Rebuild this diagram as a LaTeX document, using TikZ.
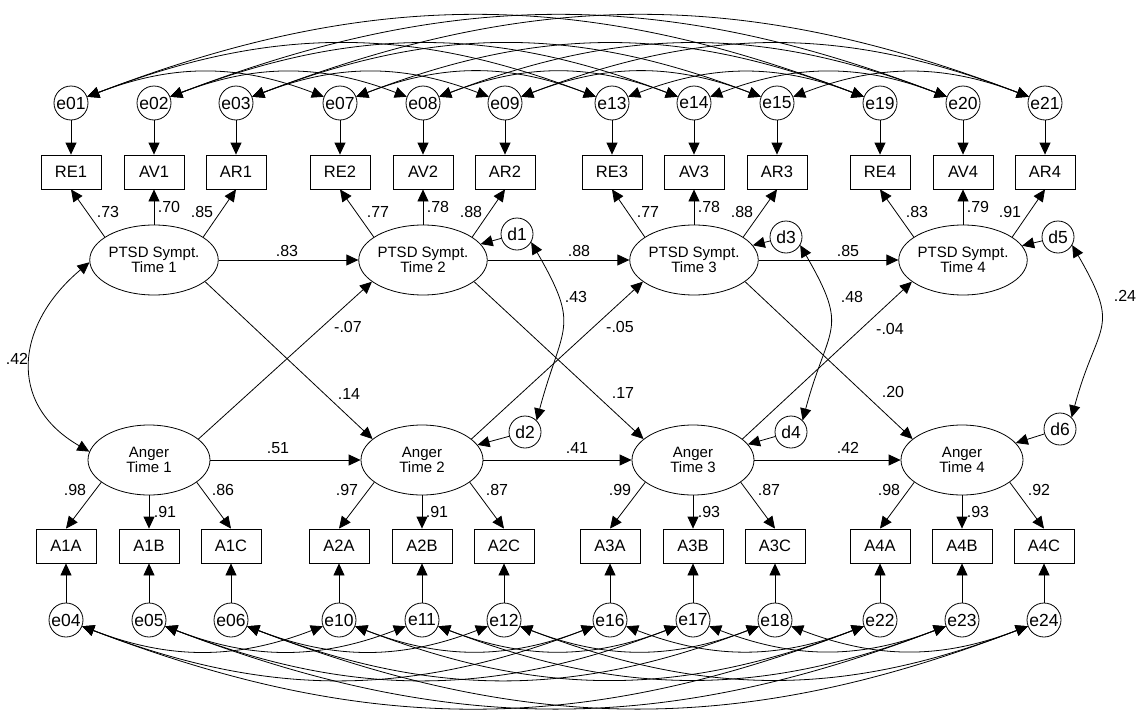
\documentclass[tikz,border=0pt]{standalone}
\usepackage{fontspec}
\setmainfont{Liberation Sans}
\usetikzlibrary{shapes.geometric,arrows.meta}
\begin{document}
\begin{tikzpicture}[x=1pt,y=1pt,
  every node/.style={font=\fontsize{16}{17}\selectfont},
  obs/.style={draw, rectangle, minimum width=60pt, minimum height=34pt, inner sep=0pt, line width=0.8pt, font=\fontsize{16.5}{17}\selectfont},
  lat/.style={draw, ellipse, minimum width=122pt, minimum height=70pt, inner sep=0pt, align=center, line width=0.8pt, font=\fontsize{15}{15.5}\selectfont},
  err/.style={draw, circle, minimum size=34pt, inner sep=0pt, line width=0.8pt, font=\fontsize{17.5}{18}\selectfont},
  dis/.style={draw, circle, minimum size=32pt, inner sep=0pt, line width=0.8pt, font=\fontsize{17.5}{18}\selectfont},
  lab/.style={inner sep=0pt, font=\fontsize{16}{16}\selectfont},
  arr/.style={-{Triangle[length=12pt,width=11pt]}, line width=0.8pt},
  dbl/.style={{Triangle[length=12pt,width=11pt]}-{Triangle[length=12pt,width=11pt]}, line width=0.8pt},
]
\useasboundingbox (0,0) rectangle (1144,-715);

% top error terms and indicators
\foreach \n/\x in {e01/71,e02/154,e03/236,e07/340,e08/423,e09/505,e13/612,e14/694,e15/777,e19/880,e20/963,e21/1045}
  \node[err] (\n) at (\x,-103) {\n};
\foreach \n/\x in {RE1/71,AV1/154,AR1/236,RE2/340,AV2/423,AR2/505,RE3/612,AV3/694,AR3/777,RE4/880,AV4/963,AR4/1045}
  \node[obs] (\n) at (\x,-172) {\n};

% bottom indicators and error terms
\foreach \n/\x in {A1A/66,A1B/149,A1C/231,A2A/339,A2B/422,A2C/504,A3A/610,A3B/693,A3C/775,A4A/880,A4B/962,A4C/1044}
  \node[obs] (\n) at (\x,-546) {\n};
\foreach \n/\x in {e04/66,e05/149,e06/231,e10/339,e11/422,e12/504,e16/610,e17/693,e18/775,e22/880,e23/962,e24/1044}
  \node[err] (\n) at (\x,-620) {\n};

% latent variables
\node[lat] (P1) at (154,-260) {PTSD Sympt.\\Time 1};
\node[lat] (P2) at (423,-260) {PTSD Sympt.\\Time 2};
\node[lat] (P3) at (694,-260) {PTSD Sympt.\\Time 3};
\node[lat] (P4) at (963,-260) {PTSD Sympt.\\Time 4};
\node[lat] (A1) at (149,-460) {Anger\\Time 1};
\node[lat] (A2) at (422,-460) {Anger\\Time 2};
\node[lat] (A3) at (693,-460) {Anger\\Time 3};
\node[lat] (A4) at (962,-460) {Anger\\Time 4};

% disturbances
\node[dis] (d1) at (517,-234) {d1};
\node[dis] (d2) at (525,-432) {d2};
\node[dis] (d3) at (786,-237) {d3};
\node[dis] (d4) at (791,-432) {d4};
\node[dis] (d5) at (1058,-237) {d5};
\node[dis] (d6) at (1060,-429) {d6};

% error arrows
\foreach \e/\o in {e01/RE1,e02/AV1,e03/AR1,e07/RE2,e08/AV2,e09/AR2,e13/RE3,e14/AV3,e15/AR3,e19/RE4,e20/AV4,e21/AR4,
                   e04/A1A,e05/A1B,e06/A1C,e10/A2A,e11/A2B,e12/A2C,e16/A3A,e17/A3B,e18/A3C,e22/A4A,e23/A4B,e24/A4C}
  \draw[arr] (\e) -- (\o);

% loadings
\foreach \p/\r/\v/\a in {P1/RE1/AV1/AR1,P2/RE2/AV2/AR2,P3/RE3/AV3/AR3,P4/RE4/AV4/AR4}{
  \draw[arr] (\p.155) -- (\r.south);
  \draw[arr] (\p.north) -- (\v.south);
  \draw[arr] (\p.25) -- (\a.south);
}
\foreach \p/\r/\v/\a in {A1/A1A/A1B/A1C,A2/A2A/A2B/A2C,A3/A3A/A3B/A3C,A4/A4A/A4B/A4C}{
  \draw[arr] (\p.-155) -- (\r.north);
  \draw[arr] (\p.south) -- (\v.north);
  \draw[arr] (\p.-25) -- (\a.north);
}

% structural paths
\foreach \a/\b in {P1/P2,P2/P3,P3/P4,A1/A2,A2/A3,A3/A4}
  \draw[arr] (\a.east) -- (\b.west);
\foreach \p/\q/\a/\b in {P1/P2/A1/A2,P2/P3/A2/A3,P3/P4/A3/A4}{
  \draw[arr] (\p.-23) -- (\b.157);
  \draw[arr] (\a.23) -- (\q.-157);
}

% disturbance arrows
\foreach \d/\l in {d1/P2,d2/A2,d3/P3,d4/A3,d5/P4,d6/A4}
  \draw[arr] (\d) -- (\l);

% covariances
\draw[dbl] (P1.182) .. controls +(220:96) and +(150:96) .. (A1.172);
\draw[dbl] (d1.-30) .. controls +(-60:100) and +(75:100) .. (d2.45);
\draw[dbl] (d3.-30) .. controls +(-60:100) and +(75:100) .. (d4.45);
\draw[dbl] (d5.-30) .. controls +(-60:100) and +(75:100) .. (d6.45);

\foreach \a/\b in {e01/e07,e01/e13,e01/e19,e07/e13,e07/e19,e13/e19,
                   e02/e08,e02/e14,e02/e20,e08/e14,e08/e20,e14/e20,
                   e03/e09,e03/e15,e03/e21,e09/e15,e09/e21,e15/e21}
  \draw[dbl] (\a) to[bend left=21] (\b);
\foreach \a/\b in {e04/e10,e04/e16,e04/e22,e10/e16,e10/e22,e16/e22,
                   e05/e11,e05/e17,e05/e23,e11/e17,e11/e23,e17/e23,
                   e06/e12,e06/e18,e06/e24,e12/e18,e12/e24,e18/e24}
  \draw[dbl] (\a) to[bend right=21] (\b);

% labels
\foreach \t/\x/\y in {.73/108/212,.70/169/207,.85/202/212,
                      .77/378/212,.78/438/207,.88/471/212,
                      .77/648/212,.78/709/207,.88/742/212,
                      .83/917/212,.79/978/207,.91/1010/212,
                      .83/287/251,.88/579/251,.85/848/251,
                      .51/278/448,.41/577/448,.42/848/448,
                      -.07/348/327,-.05/620/327,-.04/890/329,
                      .14/349/394,.17/623/393,.20/893/392,
                      .42/17/359,.43/576/297,.48/852/297,.24/1125/296,
                      .98/75/490,.91/165/512,.86/223/490,
                      .97/347/490,.91/437/512,.87/497/490,
                      .99/620/490,.93/709/512,.87/769/490,
                      .98/889/490,.93/978/512,.92/1039/490}
  \node[lab] at (\x,-\y) {\t};
\end{tikzpicture}
\end{document}
